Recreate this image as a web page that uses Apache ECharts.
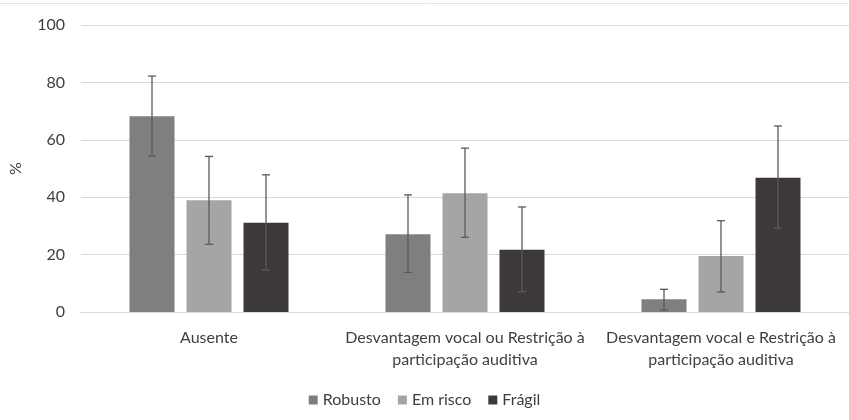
<!DOCTYPE html>
<html>
<head>
<meta charset="utf-8">
<script src="https://cdn.jsdelivr.net/npm/echarts@6/dist/echarts.min.js"></script>
<style>
html,body{margin:0;padding:0;background:#fff;}
#chart{width:849px;height:420px;}
</style>
</head>
<body>
<div id="chart"></div>
<script>
const categories = ["Ausente", "Desvantagem vocal ou Restrição à\nparticipação auditiva", "Desvantagem vocal e Restrição à\nparticipação auditiva"];
const seriesNames = ["Robusto", "Em risco", "Frágil"];
const robusto = [68.2, 27.1, 4.4];
const emRisco = [38.9, 41.4, 19.5];
const fragil = [31.1, 21.7, 46.8];
const robustoLow = [54.4, 13.8, 0.7];
const robustoHigh = [82.2, 40.8, 7.9];
const emRiscoLow = [23.6, 26.0, 7.0];
const emRiscoHigh = [54.2, 57.1, 31.8];
const fragilLow = [14.6, 7.1, 29.2];
const fragilHigh = [47.8, 36.6, 64.8];
const yTicks = [0, 20, 40, 60, 80, 100];

const colors = ["#7f7f7f", "#a5a5a5", "#3d3938"];
const values = [robusto, emRisco, fragil];
const lows = [robustoLow, emRiscoLow, fragilLow];
const highs = [robustoHigh, emRiscoHigh, fragilHigh];
const BAR_W = 45, GAP = 12;
const FONT = "Lato";

const chart = echarts.init(document.getElementById('chart'));

const barSeries = seriesNames.map((n, i) => ({
  name: n, type: 'bar', data: values[i], barWidth: BAR_W, barGap: (GAP / BAR_W * 100) + '%',
  itemStyle: { color: colors[i] }, z: 2
}));

const errSeries = seriesNames.map((n, i) => ({
  type: 'custom', name: n + '_err', silent: true, z: 5,
  data: categories.map((c, k) => [k, lows[i][k], highs[i][k]]),
  renderItem: function (params, api) {
    const k = api.value(0);
    const lo = api.coord([k, api.value(1)]);
    const hi = api.coord([k, api.value(2)]);
    const x = lo[0] + (i - 1) * (BAR_W + GAP);
    const cap = 4;
    const st = { stroke: '#5a5a5a', lineWidth: 1.3 };
    return {
      type: 'group', children: [
        { type: 'line', shape: { x1: x, y1: hi[1], x2: x, y2: lo[1] }, style: st },
        { type: 'line', shape: { x1: x - cap, y1: hi[1], x2: x + cap, y2: hi[1] }, style: st },
        { type: 'line', shape: { x1: x - cap, y1: lo[1], x2: x + cap, y2: lo[1] }, style: st }
      ]
    };
  }
}));

chart.setOption({
  animation: false,
  backgroundColor: '#fff',
  textStyle: { fontFamily: FONT },
  grid: { left: 80, right: -4, top: 25, bottom: 108, containLabel: false },
  legend: {
    data: seriesNames, top: 387, left: 'center', icon: 'rect', itemWidth: 9, itemHeight: 9, itemGap: 17,
    textStyle: { fontFamily: FONT, fontSize: 16, color: '#404040' }
  },
  graphic: [{ type: 'line', shape: { x1: 0, y1: 3.5, x2: 849, y2: 3.5 }, style: { stroke: '#e3e3e3', lineWidth: 1 } }],
  xAxis: {
    type: 'category', data: categories,
    axisLine: { lineStyle: { color: '#d9d9d9', width: 1 } },
    axisTick: { show: false },
    axisLabel: { color: '#404040', fontSize: 16, fontFamily: FONT, margin: 15, lineHeight: 22, interval: 0 }
  },
  yAxis: {
    type: 'value', min: 0, max: 100, interval: 20,
    name: '%', nameLocation: 'middle', nameGap: 57, nameRotate: 90,
    nameTextStyle: { color: '#404040', fontSize: 16, fontFamily: FONT },
    axisLine: { show: false }, axisTick: { show: false },
    axisLabel: { color: '#404040', fontSize: 16, fontFamily: FONT, margin: 16,
      formatter: v => yTicks.includes(v) ? String(v) : '' },
    splitLine: { lineStyle: { color: '#d9d9d9', width: 1 } }
  },
  series: barSeries.concat(errSeries)
});
</script>
</body>
</html>
